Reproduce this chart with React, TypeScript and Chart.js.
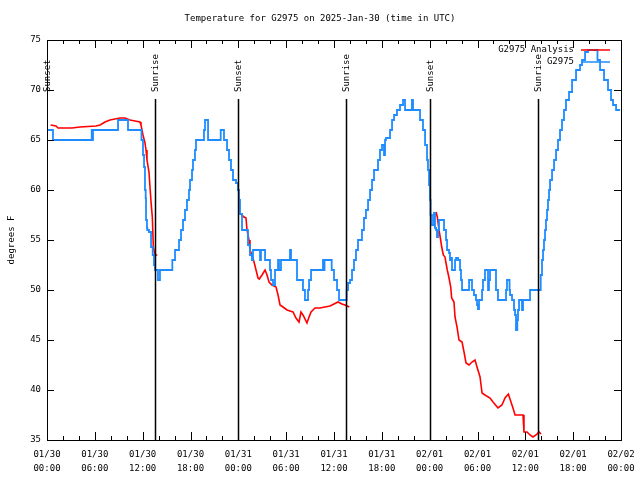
import React, { useEffect, useRef } from 'react';
import { Chart, registerables } from 'chart.js';

Chart.register(...registerables);

const FONT = "'DejaVu Sans Mono', 'Liberation Mono', monospace";

const titleText = 'Temperature for G2975 on 2025-Jan-30 (time in UTC)';
const yAxisTitle = 'degrees F';

// x axis: hours since 2025-01-30 00:00 UTC
const xTickDates = ['01/30', '01/30', '01/30', '01/30', '01/31', '01/31', '01/31', '01/31', '02/01', '02/01', '02/01', '02/01', '02/02'];
const xTickTimes = ['00:00', '06:00', '12:00', '18:00', '00:00', '06:00', '12:00', '18:00', '00:00', '06:00', '12:00', '18:00', '00:00'];

const sunHours = [0.0, 13.55, 23.96, 37.5, 48.04, 61.6];
const sunLabels = ['Sunset', 'Sunrise', 'Sunset', 'Sunrise', 'Sunset', 'Sunrise'];

const seriesNames = ['G2975 Analysis', 'G2975'];
const seriesColors = ['#ff0000', '#1e8cff'];

// Observations (G2975)
const blueHours = [
  0.13, 0.75, 0.88, 5.61, 5.71, 5.77, 5.83, 8.91, 9.16, 10.16, 10.41, 11.85, 12.04, 12.17, 12.29, 12.38, 12.42, 12.54, 12.58, 12.79,
  13.05, 13.26, 13.42, 13.55, 13.67, 13.92, 14.17, 14.43, 15.72, 15.81, 16.06, 16.31, 16.56, 16.81, 17.06, 17.31, 17.56, 17.81, 17.94, 18.19,
  18.31, 18.56, 18.69, 18.94, 19.69, 19.82, 20.2, 20.7, 21.79, 21.95, 22.2, 22.58, 22.83, 23.08, 23.33, 23.71, 23.96, 24.08, 24.21, 24.46,
  24.71, 25.21, 25.46, 25.71, 25.84, 26.22, 26.72, 26.84, 27.09, 27.35, 27.6, 27.97, 28.1, 28.35, 28.6, 28.73, 28.98, 29.1, 29.35, 29.6,
  30.48, 30.61, 30.73, 31.36, 31.61, 32.11, 32.36, 32.58, 32.74, 32.87, 33.12, 33.37, 34.62, 34.75, 34.81, 34.93, 35.71, 36.0, 36.38, 36.63,
  36.88, 37.59, 37.76, 38.01, 38.26, 38.51, 38.76, 39.01, 39.51, 39.76, 40.01, 40.27, 40.52, 40.77, 41.02, 41.52, 41.77, 42.02, 42.27, 42.4,
  42.52, 43.03, 43.28, 43.53, 43.9, 44.28, 44.66, 44.91, 45.16, 45.78, 45.91, 46.16, 46.79, 47.16, 47.42, 47.67, 47.79, 47.92, 48.04, 48.11,
  48.29, 48.54, 48.67, 48.8, 48.92, 49.05, 49.17, 49.43, 49.8, 50.05, 50.18, 50.43, 50.55, 50.68, 50.8, 51.18, 51.31, 51.56, 51.81, 51.93,
  52.06, 52.43, 52.94, 53.06, 53.31, 53.56, 53.81, 53.94, 54.06, 54.19, 54.57, 54.69, 54.94, 55.07, 55.32, 55.44, 55.57, 55.82, 56.32, 56.57,
  56.82, 57.58, 57.7, 57.87, 58.02, 58.08, 58.33, 58.58, 58.71, 58.83, 58.99, 59.08, 59.21, 59.33, 59.58, 59.71, 59.83, 60.59, 60.71, 61.93,
  62.09, 62.22, 62.34, 62.47, 62.59, 62.72, 62.84, 62.97, 63.1, 63.35, 63.6, 63.85, 64.1, 64.35, 64.6, 64.85, 65.1, 65.48, 65.86, 66.36,
  66.86, 67.11, 67.49, 67.86, 68.3, 69.05, 69.37, 69.87, 70.37, 70.75, 71.0, 71.38, 71.88,
];
const blueTemps = [
  66, 66, 65, 65, 66, 65, 66, 66, 67, 67, 66, 66, 65, 63.5, 62.3, 60, 59.2, 57, 56.2, 56,
  55.8, 54.3, 53.5, 52.5, 52, 52, 51, 52, 52, 53, 53, 54, 54, 55, 56, 57, 58, 59, 60, 61,
  62, 63, 64, 65, 65, 66, 67, 65, 65, 66, 66, 65, 64, 63, 62, 61, 60.7, 60, 59, 57.6,
  56, 56, 54.5, 53.5, 53, 54, 54, 53, 54, 54, 53, 53, 52, 51, 50.5, 52, 52, 53, 52, 53,
  53, 54, 53, 53, 51, 51, 50, 49, 49, 50, 51, 52, 52, 53, 52, 53, 53, 52, 51, 50,
  49, 49, 50, 50.7, 51, 52, 53, 54, 55, 56, 57.2, 58, 59, 60, 61, 62, 63, 64, 64.5, 63.5,
  65, 65.2, 66, 67, 67.5, 68, 68.5, 69, 68, 68, 69, 68, 68, 67, 66, 64.5, 63, 62, 60.5, 59,
  57.5, 56.5, 57.7, 56.2, 56, 55.3, 56, 57, 57, 56, 55, 54, 53.7, 53, 53.2, 52, 53, 53.2, 53, 52,
  51, 50, 50, 51, 51, 50, 49.5, 49, 48.5, 48.1, 49, 50, 51, 52, 52, 50, 51, 52, 52, 50,
  49, 49, 50, 51, 51, 50, 49.5, 49, 48, 47.5, 46, 47, 48, 49, 49, 48, 49, 49, 50, 50,
  51.5, 53, 54, 55, 56, 57, 58, 59, 60, 61, 62, 63, 64, 65, 66, 67, 68, 69, 69.8, 71,
  72, 72.5, 73, 73.8, 74, 74, 73, 72, 71, 70, 69, 68.5, 68,
];

// Analysis (G2975 Analysis), null = gap
const redHours = [
  0.46, 1.13, 1.38, 3.14, 4.14, 6.15, 6.65, 7.28, 7.9, 8.53, 9.16, 9.78, 10.41, 11.04, 11.67, 11.79, 12.04, 12.29, 12.42, 12.54,
  12.79, 13.05, 13.21, 13.34, 13.55, 13.84,
  18.0,
  24.33, 24.71, 24.96, 25.09, 25.34, 25.46, 25.71, 25.97, 26.22, 26.47, 26.63, 26.97, 27.35, 27.6, 27.85, 28.22, 28.73, 28.98, 29.23, 29.6,
  30.11, 30.48, 30.86, 31.23, 31.61, 31.86, 32.11, 32.61, 32.87, 33.12, 33.62, 34.24, 34.87, 35.5, 36.0, 36.5, 37.0, 37.38, 37.92,
  43.0,
  48.8, 48.96, 49.17, 49.38, 49.51, 49.71, 49.92, 50.05, 50.21, 50.43, 50.64, 50.76, 51.05, 51.18, 51.43, 51.68, 52.06, 52.31, 52.56, 52.94,
  53.31, 53.69, 53.94, 54.32, 54.57, 54.94, 55.57, 55.95, 56.57, 57.07, 57.45, 57.87, 58.2, 58.45, 58.71, 59.71, 59.83, 60.21, 60.59, 60.96,
  61.34, 61.72, 61.97,
];
const redTemps = [
  66.5, 66.4, 66.2, 66.2, 66.3, 66.4, 66.5, 66.8, 67.0, 67.1, 67.2, 67.2, 67.0, 66.9, 66.8, 66.5, 65.5, 64.7, 64.0, 63.0,
  61.8, 58.8, 57.3, 54.3, 53.5, 53.5,
  null,
  57.6, 57.3, 57.2, 56.0, 55.0, 54.0, 53.5, 52.8, 52.0, 51.2, 51.1, 51.5, 52.0, 51.5, 50.8, 50.5, 50.3, 49.5, 48.5, 48.3,
  48.0, 47.9, 47.8, 47.2, 46.8, 47.8, 47.5, 46.7, 47.3, 47.8, 48.2, 48.2, 48.3, 48.4, 48.6, 48.8, 48.6, 48.5, 48.3,
  null,
  57.8, 57.3, 56.0, 55.0, 54.3, 53.5, 53.3, 52.7, 52.0, 51.2, 50.3, 49.2, 48.8, 47.3, 46.3, 45.0, 44.8, 43.8, 42.7, 42.5,
  42.8, 43.0, 42.3, 41.3, 39.7, 39.5, 39.2, 38.8, 38.2, 38.5, 39.2, 39.6, 38.8, 38.2, 37.5, 37.5, 35.8, 35.8, 35.5, 35.3,
  35.5, 35.8, 35.6,
];

const overlayPlugin = {
  id: 'gnuplotOverlay',
  afterDatasetsDraw(chart: any) {
    const { ctx, chartArea, scales } = chart;
    const xs = scales.x;
    ctx.save();
    ctx.strokeStyle = '#000';
    ctx.fillStyle = '#000';
    ctx.lineWidth = 1.5;
    ctx.font = `9px ${FONT}`;
    sunHours.forEach((h, i) => {
      const px = Math.round(xs.getPixelForValue(h)) + 0.5;
      if (i > 0) {
        ctx.beginPath();
        ctx.moveTo(px, chartArea.top + 59);
        ctx.lineTo(px, chartArea.bottom);
        ctx.stroke();
      }
      ctx.save();
      ctx.translate(px + 0.5, chartArea.top + 52);
      ctx.rotate(-Math.PI / 2);
      ctx.textAlign = 'left';
      ctx.textBaseline = 'middle';
      ctx.fillText(sunLabels[i], 0, 0);
      ctx.restore();
    });
    ctx.restore();
  },
  afterDraw(chart: any) {
    const { ctx, chartArea, scales } = chart;
    const xs = scales.x;
    const ys = scales.y;
    const L = chartArea.left, R = chartArea.right, T = chartArea.top, B = chartArea.bottom;
    ctx.save();
    ctx.strokeStyle = '#000';
    ctx.lineWidth = 1;
    ctx.strokeRect(Math.round(L) + 0.5, Math.round(T) + 0.5, Math.round(R - L), Math.round(B - T));
    ctx.beginPath();
    for (let h = 0; h <= 72; h += 2) {
      const px = Math.round(xs.getPixelForValue(h)) + 0.5;
      const len = h % 6 === 0 ? 8 : 4;
      ctx.moveTo(px, B); ctx.lineTo(px, B - len);
      ctx.moveTo(px, T); ctx.lineTo(px, T + len);
    }
    for (let v = 35; v <= 75; v += 5) {
      const py = Math.round(ys.getPixelForValue(v)) + 0.5;
      ctx.moveTo(L, py); ctx.lineTo(L + 7, py);
      ctx.moveTo(R, py); ctx.lineTo(R - 7, py);
    }
    ctx.stroke();

    ctx.fillStyle = '#000';
    ctx.font = `9px ${FONT}`;
    // title
    ctx.textAlign = 'center';
    ctx.textBaseline = 'middle';
    ctx.fillText(titleText, chart.width / 2, 19);
    // y title
    ctx.save();
    ctx.translate(12, (T + B) / 2);
    ctx.rotate(-Math.PI / 2);
    ctx.fillText(yAxisTitle, 0, 0);
    ctx.restore();
    // legend
    const lx = R - 47;
    const rows = [T + 10, T + 22];
    seriesNames.forEach((name, i) => {
      ctx.textAlign = 'right';
      ctx.fillStyle = '#000';
      ctx.fillText(name, lx, rows[i]);
      ctx.strokeStyle = seriesColors[i];
      ctx.lineWidth = 1.5;
      ctx.beginPath();
      ctx.moveTo(lx + 7, rows[i]);
      ctx.lineTo(lx + 36, rows[i]);
      ctx.stroke();
    });
    ctx.restore();
  },
};

export default function App() {
  const canvasRef = useRef<HTMLCanvasElement | null>(null);

  useEffect(() => {
    document.body.style.margin = '0';
    const canvas = canvasRef.current;
    if (!canvas) return;
    const chart = new Chart(canvas, {
      type: 'line',
      data: {
        datasets: [
          {
            label: seriesNames[1],
            data: blueHours.map((h, i) => ({ x: h, y: blueTemps[i] })),
            borderColor: seriesColors[1],
            borderWidth: 1.8,
            pointRadius: 0,
            stepped: 'after',
            fill: false,
          },
          {
            label: seriesNames[0],
            data: redHours.map((h, i) => ({ x: h, y: redTemps[i] })),
            borderColor: seriesColors[0],
            borderWidth: 1.6,
            pointRadius: 0,
            tension: 0,
            spanGaps: false,
            fill: false,
          },
        ],
      },
      options: {
        animation: false,
        responsive: false,
        maintainAspectRatio: false,
        devicePixelRatio: 1,
        layout: { padding: { top: 40, right: 19, left: 0, bottom: 0 } },
        plugins: {
          legend: { display: false },
          title: { display: false },
          tooltip: { enabled: false },
        },
        scales: {
          x: {
            type: 'linear',
            min: 0,
            max: 72,
            grid: { display: false, tickLength: 0 },
            border: { display: false },
            afterFit: (s: any) => { s.height = 40; s.paddingLeft = 0; s.paddingRight = 0; },
            ticks: {
              stepSize: 6,
              autoSkip: false,
              maxRotation: 0,
              padding: 8,
              color: '#000',
              font: { family: FONT, size: 9, lineHeight: 1.55 },
              callback: (_v: any, i: number) => [xTickDates[i], xTickTimes[i]],
            },
          },
          y: {
            min: 35,
            max: 75,
            grid: { display: false, tickLength: 0 },
            border: { display: false },
            afterFit: (s: any) => { s.width = 47; s.paddingTop = 0; s.paddingBottom = 0; },
            ticks: {
              stepSize: 5,
              padding: 6,
              color: '#000',
              font: { family: FONT, size: 9 },
            },
          },
        },
      },
      plugins: [overlayPlugin],
    });
    return () => chart.destroy();
  }, []);

  return (
    <div style={{ position: 'fixed', left: 0, top: 0, width: 640, height: 480, background: '#fff' }}>
      <canvas ref={canvasRef} width={640} height={480} style={{ width: 640, height: 480 }} />
    </div>
  );
}
